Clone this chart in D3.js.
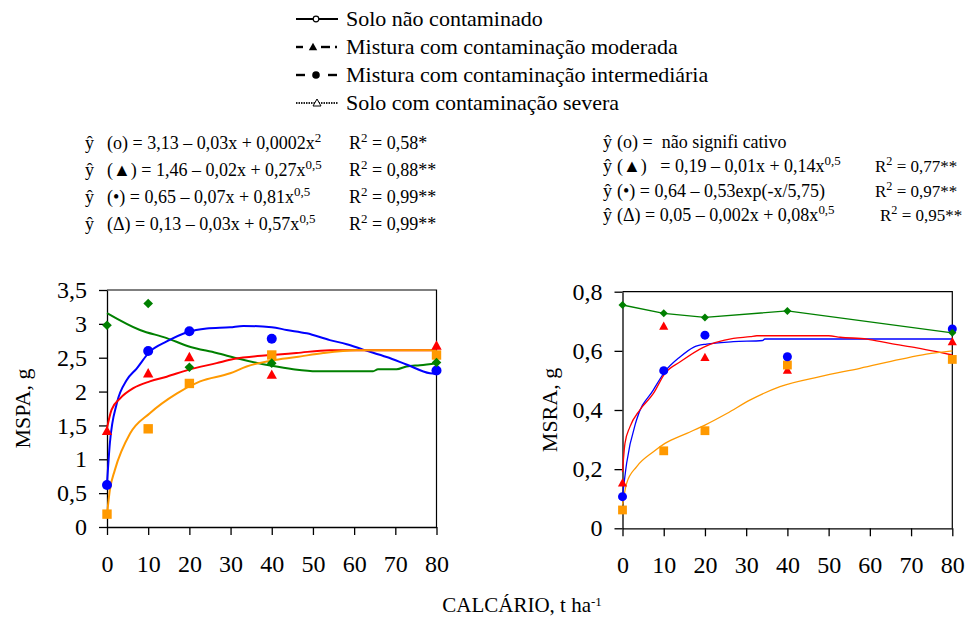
<!DOCTYPE html>
<meta charset="utf-8">
<style>
body { margin: 0; background: #fff; }
svg { font-family: "Liberation Serif", "Times New Roman", serif; }
.axis path, .axis line { stroke: #000; stroke-width: 1.3px; }
.axis text { font-family: "Liberation Serif", "Times New Roman", serif; font-size: 24px; fill: #000; }
.eq { font-size: 18px; }
.eqr { font-size: 17px; }
.leg { font-size: 22px; }
</style>
<svg width="966" height="619"></svg>
<script src="https://cdn.jsdelivr.net/npm/d3@7"></script>
<script>

// doses de calcário (t/ha)
var doses = [0, 10, 20, 40, 80];
var xTicks = [0, 10, 20, 30, 40, 50, 60, 70, 80];
var mspaTicks = [0, 0.5, 1, 1.5, 2, 2.5, 3, 3.5];
var msraTicks = [0, 0.2, 0.4, 0.6, 0.8];

var seriesNames = ["Solo não contaminado", "Mistura com contaminação moderada",
                   "Mistura com contaminação intermediária", "Solo com contaminação severa"];

// MSPA observed
var mspaSolo = [2.98, 3.30, 2.36, 2.42, 2.43];
var mspaModerada = [1.42, 2.27, 2.51, 2.25, 2.68];
var mspaIntermediaria = [0.62, 2.60, 2.89, 2.78, 2.31];
var mspaSevera = [0.19, 1.45, 2.12, 2.54, 2.54];

// MSPA fitted curves, as drawn
var mspaSoloFitX = [0, 8, 14.5, 19.7, 26.6, 32.3, 40, 45.2, 50.9, 64.6, 65.8, 70.3, 72.7, 76, 80];
var mspaSoloFitY = [3.16, 2.91, 2.79, 2.67, 2.57, 2.48, 2.38, 2.33, 2.30, 2.30, 2.33, 2.33, 2.37, 2.39, 2.42];
var mspaIntFitX = [0, 0.7, 2.4, 4.8, 7.2, 10.4, 14.5, 19.7, 24.2, 29.9, 33.1, 40, 43.6, 48.5, 54.1, 58.2, 62.2, 67.9, 72.7, 78.4, 80];
var mspaIntFitY = [0.64, 1.24, 1.83, 2.17, 2.34, 2.59, 2.74, 2.88, 2.93, 2.95, 2.97, 2.95, 2.91, 2.86, 2.76, 2.70, 2.62, 2.51, 2.40, 2.27, 2.26];
var mspaModFitX = [0, 1.1, 3.2, 6.4, 10.4, 14.5, 19.7, 26.6, 30.7, 40, 46, 54.1, 80];
var mspaModFitY = [1.46, 1.73, 1.90, 2.05, 2.15, 2.22, 2.32, 2.42, 2.48, 2.54, 2.57, 2.61, 2.61];
var mspaSevFitX = [0, 0.7, 1.9, 5.6, 10.4, 16.9, 22.6, 29.9, 33.9, 40, 46, 52.5, 60.6, 80];
var mspaSevFitY = [0.18, 0.55, 0.84, 1.38, 1.68, 1.97, 2.15, 2.27, 2.37, 2.46, 2.51, 2.57, 2.61, 2.61];

// MSRA observed
var msraSolo = [0.755, 0.727, 0.713, 0.735, 0.661];
var msraModerada = [0.154, 0.684, 0.578, 0.535, 0.631];
var msraIntermediaria = [0.107, 0.533, 0.653, 0.580, 0.674];
var msraSevera = [0.062, 0.262, 0.330, 0.552, 0.571];

// MSRA fitted curves, as drawn
var msraIntFitX = [0, 1.0, 3.4, 7.5, 10.3, 14, 17.2, 20.4, 26.9, 34, 34.5, 80];
var msraIntFitY = [0.107, 0.22, 0.366, 0.468, 0.53, 0.58, 0.612, 0.623, 0.631, 0.635, 0.640, 0.640];
var msraModFitX = [0, 0.6, 1.8, 4.2, 7.5, 10.3, 14, 19.6, 26.9, 31, 32.6, 50, 52.8, 59.3, 64.9, 71.4, 76.2, 80];
var msraModFitY = [0.19, 0.287, 0.343, 0.40, 0.456, 0.524, 0.563, 0.612, 0.642, 0.648, 0.651, 0.651, 0.646, 0.640, 0.625, 0.610, 0.597, 0.586];
var msraSevFitX = [0, 1.0, 3.4, 7.5, 10.3, 15.6, 20, 25.3, 31, 38.2, 47.9, 57.6, 67.3, 73.7, 80];
var msraSevFitY = [0.08, 0.152, 0.208, 0.259, 0.287, 0.321, 0.349, 0.388, 0.434, 0.479, 0.513, 0.541, 0.571, 0.589, 0.600];

var eqLeft = [
  [["(o) = 3,13 – 0,03x + 0,0002x"], ["2", 1]],
  [["(▲) = 1,46 – 0,02x + 0,27x"], ["0,5", 1]],
  [["(•) = 0,65 – 0,07x + 0,81x"], ["0,5", 1]],
  [["(Δ) = 0,13 – 0,03x + 0,57x"], ["0,5", 1]]
];
var r2Left = ["0,58*", "0,88**", "0,99**", "0,99**"];
var eqRight = [
  [["(o) =\u00a0\u00a0não signifi cativo"]],
  [["(▲)\u00a0\u00a0\u00a0= 0,19 – 0,01x + 0,14x"], ["0,5", 1]],
  [["(•) = 0,64 – 0,53exp(-x/5,75)"]],
  [["(Δ) = 0,05 – 0,002x + 0,08x"], ["0,5", 1]]
];
var r2Right = [null, "0,77**", "0,97**", "0,95**"];

var blue = "#0000ff", red = "#ff0000", orange = "#ff9900", green = "#008000";

var svg = d3.select("svg");
svg.append("rect").attr("width", 966).attr("height", 619).attr("fill", "#fff");

function fmt(d) { return String(d).replace(".", ","); }
function pairs(xs, ys) { return xs.map(function(v, i) { return [v, ys[i]]; }); }

function marker(g, shape, cx, cy, color, s) {
  if (shape == "circle") {
    g.append("circle").attr("cx", cx).attr("cy", cy).attr("r", s).attr("fill", color);
  } else if (shape == "square") {
    g.append("rect").attr("x", cx - s).attr("y", cy - s).attr("width", 2 * s).attr("height", 2 * s).attr("fill", color);
  } else if (shape == "triangle") {
    g.append("path").attr("d", "M" + cx + "," + (cy - s) + "L" + (cx + s) + "," + (cy + s * 0.8) + "L" + (cx - s) + "," + (cy + s * 0.8) + "Z").attr("fill", color);
  } else if (shape == "diamond") {
    g.append("path").attr("d", "M" + cx + "," + (cy - s) + "L" + (cx + s) + "," + cy + "L" + cx + "," + (cy + s) + "L" + (cx - s) + "," + cy + "Z").attr("fill", color);
  }
}

function drawPanel(p) {
  var x = d3.scaleLinear().domain([0, 80]).range([p.left, p.right]);
  var y = d3.scaleLinear().domain([0, p.yMax]).range([p.bottom, p.top]);
  var g = svg.append("g");

  g.append("path")
      .attr("d", "M" + p.left + "," + p.top + "H" + p.right + "V" + p.bottom)
      .attr("fill", "none").attr("stroke", "#000").attr("stroke-width", 1.2);

  g.append("g").attr("class", "axis")
      .attr("transform", "translate(0," + p.bottom + ")")
      .call(d3.axisBottom(x).tickValues(xTicks).tickSize(8).tickSizeOuter(0).tickPadding(20).tickFormat(fmt));
  g.append("g").attr("class", "axis")
      .attr("transform", "translate(" + p.left + ",0)")
      .call(d3.axisLeft(y).tickValues(p.ticks).tickSize(8).tickSizeOuter(0).tickPadding(12).tickFormat(fmt));

  g.append("text")
      .attr("transform", "translate(" + p.labelX + "," + ((p.top + p.bottom) / 2) + ") rotate(-90)")
      .attr("text-anchor", "middle").attr("dy", "0.35em")
      .style("font-size", "22px").text(p.label);

  var line = d3.line()
      .x(function(d) { return x(d[0]); })
      .y(function(d) { return y(d[1]); })
      .curve(d3.curveMonotoneX);
  var straight = d3.line()
      .x(function(d) { return x(d[0]); })
      .y(function(d) { return y(d[1]); });

  p.fits.forEach(function(f) {
    g.append("path").datum(f.data)
        .attr("d", f.straight ? straight : line)
        .attr("fill", "none").attr("stroke", f.color).attr("stroke-width", p.lw);
  });

  p.points.forEach(function(s) {
    doses.forEach(function(d, i) {
      marker(g, s.shape, x(d), y(s.vals[i]), s.color, s.size);
    });
  });
}

drawPanel({
  left: 107, right: 436.5, top: 290, bottom: 527, yMax: 3.5, ticks: mspaTicks,
  label: "MSPA, g", labelX: 22, lw: 2,
  fits: [
    { data: pairs(mspaSoloFitX, mspaSoloFitY), color: green },
    { data: pairs(mspaIntFitX, mspaIntFitY), color: blue },
    { data: pairs(mspaModFitX, mspaModFitY), color: red },
    { data: pairs(mspaSevFitX, mspaSevFitY), color: orange }
  ],
  points: [
    { vals: mspaModerada, color: red, shape: "triangle", size: 5.2 },
    { vals: mspaSevera, color: orange, shape: "square", size: 4.7 },
    { vals: mspaIntermediaria, color: blue, shape: "circle", size: 5 },
    { vals: mspaSolo, color: green, shape: "diamond", size: 4.8 }
  ]
});

drawPanel({
  left: 622.5, right: 952.3, top: 291.7, bottom: 528.3, yMax: 0.8, ticks: msraTicks,
  label: "MSRA, g", labelX: 549, lw: 1.3,
  fits: [
    { data: pairs(doses, msraSolo), color: green, straight: true },
    { data: pairs(msraIntFitX, msraIntFitY), color: blue },
    { data: pairs(msraModFitX, msraModFitY), color: red },
    { data: pairs(msraSevFitX, msraSevFitY), color: orange }
  ],
  points: [
    { vals: msraModerada, color: red, shape: "triangle", size: 4.6 },
    { vals: msraSevera, color: orange, shape: "square", size: 4.4 },
    { vals: msraIntermediaria, color: blue, shape: "circle", size: 4.5 },
    { vals: msraSolo, color: green, shape: "diamond", size: 4 }
  ]
});

// text with superscripts
function richText(parent, x, yb, parts, cls) {
  var t = parent.append("text").attr("x", x).attr("y", yb).attr("class", cls);
  var up = false;
  parts.forEach(function(pt) {
    var ts = t.append("tspan").text(pt[0]);
    if (pt[1] && !up) { ts.attr("dy", -7).style("font-size", "0.72em"); up = true; }
    else if (!pt[1] && up) { ts.attr("dy", 7); up = false; }
    else if (pt[1]) ts.style("font-size", "0.72em");
  });
  return t;
}

var eqG = svg.append("g");
var leftBase = [149, 176, 203, 230];
eqLeft.forEach(function(parts, i) {
  eqG.append("text").attr("x", 85).attr("y", leftBase[i]).attr("class", "eq").text("ŷ");
  richText(eqG, 107, leftBase[i], parts, "eq");
  richText(eqG, 349, leftBase[i], [["R"], ["2", 1], [" = " + r2Left[i]]], "eq");
});
var rightBase = [148, 172, 197, 221];
eqRight.forEach(function(parts, i) {
  eqG.append("text").attr("x", 603).attr("y", rightBase[i]).attr("class", "eq").text("ŷ");
  richText(eqG, 617, rightBase[i], parts, "eq");
  if (r2Right[i]) richText(eqG, i == 3 ? 880 : 875, rightBase[i], [["R"], ["2", 1], [" = " + r2Right[i]]], "eqr");
});

// legend
var leg = svg.append("g");
var legY = [19, 47, 75, 103];
seriesNames.forEach(function(name, i) {
  leg.append("text").attr("x", 346).attr("y", legY[i] + 7).attr("class", "leg").text(name);
});
leg.append("line").attr("x1", 296).attr("x2", 338).attr("y1", legY[0]).attr("y2", legY[0]).attr("stroke", "#000").attr("stroke-width", 1.8);
leg.append("circle").attr("cx", 316).attr("cy", legY[0]).attr("r", 2.8).attr("fill", "#fff").attr("stroke", "#000").attr("stroke-width", 1.2);
[[296, 303], [321, 330], [335, 337]].forEach(function(s) {
  leg.append("line").attr("x1", s[0]).attr("x2", s[1]).attr("y1", legY[1]).attr("y2", legY[1]).attr("stroke", "#000").attr("stroke-width", 2.4);
});
marker(leg, "triangle", 313, legY[1], "#000", 4.2);
[[296, 305], [328, 337]].forEach(function(s) {
  leg.append("line").attr("x1", s[0]).attr("x2", s[1]).attr("y1", legY[2]).attr("y2", legY[2]).attr("stroke", "#000").attr("stroke-width", 2.4);
});
marker(leg, "circle", 316, legY[2], "#000", 3.8);
leg.append("line").attr("x1", 296).attr("x2", 338).attr("y1", legY[3]).attr("y2", legY[3]).attr("stroke", "#222").attr("stroke-width", 2.2).attr("stroke-dasharray", "1.5,1");
leg.append("path").attr("d", "M317," + (legY[3] - 4) + "L321," + (legY[3] + 3) + "L313," + (legY[3] + 3) + "Z").attr("fill", "#fff").attr("stroke", "#000").attr("stroke-width", 1);

// x axis title
var xt = svg.append("text").attr("x", 522).attr("y", 612).attr("text-anchor", "middle").style("font-size", "21px");
xt.append("tspan").text("CALCÁRIO, t ha");
xt.append("tspan").attr("dy", -6).style("font-size", "13px").text("-1");

</script>
